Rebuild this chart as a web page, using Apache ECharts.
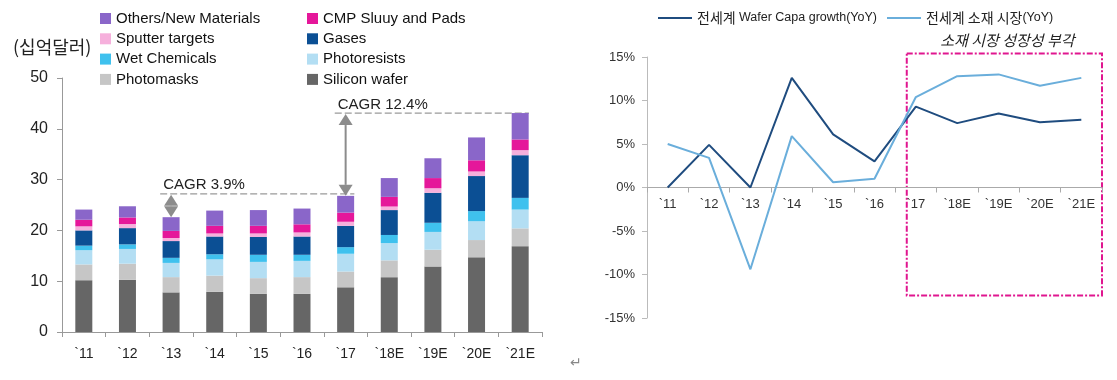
<!DOCTYPE html>
<html>
<head>
<meta charset="utf-8">
<script src="https://cdn.jsdelivr.net/npm/echarts@6/dist/echarts.min.js"></script>
<style>
html,body{margin:0;padding:0;background:#fff;}
#c{width:1117px;height:380px;}
</style>
</head>
<body>
<div id="c"></div>
<script>
// ---- Data ----
const categories = ['`11','`12','`13','`14','`15','`16','`17','`18E','`19E','`20E','`21E'];
const siliconWafer = [10.2,10.3,7.8,7.9,7.5,7.5,8.8,10.8,12.9,14.7,16.9];
const photomasks   = [3.1,3.15,3.0,3.2,3.1,3.3,3.1,3.3,3.3,3.4,3.5];
const photoresists = [2.8,2.9,2.8,3.2,3.2,3.2,3.5,3.4,3.5,3.7,3.7];
const wetChemicals = [0.9,0.9,1.0,1.0,1.4,1.2,1.3,1.6,1.8,2.0,2.3];
const gases        = [3.0,3.2,3.3,3.5,3.5,3.6,4.2,4.9,5.9,6.9,8.4];
const sputter      = [0.8,0.8,0.6,0.6,0.7,0.8,0.8,0.7,0.9,0.9,1.0];
const cmp          = [1.3,1.3,1.4,1.5,1.5,1.6,1.8,1.9,2.0,2.2,2.1];
const others       = [2.0,2.2,2.7,3.0,3.1,3.1,3.3,3.7,3.9,4.5,5.2];
const leftTicks = [0,10,20,30,40,50];

const lineCategories = ['`11','`12','`13','`14','`15','`16','`17','`18E','`19E','`20E','`21E'];
const waferCapa = [0.0,4.9,0.0,12.6,6.1,3.0,9.3,7.4,8.5,7.5,7.8];
const materialMarket = [5.0,3.4,-9.4,5.9,0.6,1.0,10.4,12.8,13.0,11.7,12.6];
const rightTicks = [-15,-10,-5,0,5,10,15];

const cagr1 = {label:'CAGR 3.9%', level:27.2, from:2, arrowCat:2, arrowTo:22.6, to:6};
const cagr2 = {label:'CAGR 12.4%', level:43.1, from:6, arrowCat:6, arrowTo:26.8, to:10};

const LAT = '"Liberation Sans", Arial, sans-serif';
const KRF = '"Noto Sans CJK KR", sans-serif';

const chart = echarts.init(document.getElementById('c'), null, {renderer:'canvas'});

const barNames = ['Silicon wafer','Photomasks','Photoresists','Wet Chemicals','Gases','Sputter targets','CMP Sluuy and Pads','Others/New Materials'];
const barData = [siliconWafer, photomasks, photoresists, wetChemicals, gases, sputter, cmp, others];
const barColors = ['#666666','#c6c6c6','#b3def3','#3fc1ee','#0b4f94','#f6b0dc','#e5179a','#8a66c9'];

const lineName1 = '전세계 Wafer Capa growth(YoY)';
const lineName2 = '전세계 소재 시장(YoY)';

const series = barNames.map((n,i)=>({
  name:n, type:'bar', stack:'total', xAxisIndex:0, yAxisIndex:0,
  data: barData[i], barWidth:17, itemStyle:{color:barColors[i]},
  animation:false
}));
series.push({
  name:lineName1, type:'line', xAxisIndex:1, yAxisIndex:1,
  data: waferCapa, symbol:'none', showSymbol:false,
  lineStyle:{color:'#1f4c7f', width:2}, itemStyle:{color:'#1f4c7f'}, animation:false
});
series.push({
  name:lineName2, type:'line', xAxisIndex:1, yAxisIndex:1,
  data: materialMarket, symbol:'none', showSymbol:false,
  lineStyle:{color:'#6aaedb', width:2}, itemStyle:{color:'#6aaedb'}, animation:false
});

const legendText = {fontFamily:LAT, fontSize:15, color:'#111', lineHeight:15};
const option = {
  animation:false,
  backgroundColor:'#fff',
  grid:[
    {left:62, right:575, top:78, bottom:48},
    {left:647, right:15, top:57, bottom:62}
  ],
  legend:[
    {left:100, top:11, padding:0, orient:'vertical', itemWidth:11, itemHeight:11, itemGap:5.3, icon:'rect',
     textStyle:legendText, data:['Others/New Materials','Sputter targets','Wet Chemicals','Photomasks']},
    {left:307, top:11, padding:0, orient:'vertical', itemWidth:11, itemHeight:11, itemGap:5.3, icon:'rect',
     textStyle:legendText, data:['CMP Sluuy and Pads','Gases','Photoresists','Silicon wafer']},
    {left:658, top:11, padding:0, orient:'horizontal', itemWidth:34, itemHeight:2, itemGap:10, icon:'rect',
     formatter: function(n){
       const i = n.indexOf('(');
       if (n.indexOf('Wafer') >= 0) {
         const k = n.split(' ')[0];
         return '{k|' + k + '} {l|' + n.slice(k.length+1) + '}';
       }
       return '{k|' + n.slice(0,i) + '}{l|' + n.slice(i) + '}';
     },
     textStyle:{color:'#222', rich:{
       k:{fontFamily:KRF, fontSize:14, color:'#222'},
       l:{fontFamily:LAT, fontSize:12.5, color:'#222'}
     }},
     data:[lineName1, lineName2]}
  ],
  xAxis:[
    {type:'category', gridIndex:0, data:categories,
     axisLine:{lineStyle:{color:'#999', width:1}},
     axisTick:{show:true, length:5, lineStyle:{color:'#999'}},
     axisLabel:{fontFamily:LAT, fontSize:14, color:'#222', margin:15}},
    {type:'category', gridIndex:1, data:lineCategories,
     axisLine:{onZero:false, lineStyle:{color:'#aaa', width:1}},
     axisTick:{show:true, length:5, lineStyle:{color:'#aaa'}},
     axisLabel:{fontFamily:LAT, fontSize:13, color:'#333', margin:10}}
  ],
  yAxis:[
    {type:'value', gridIndex:0, min:leftTicks[0], max:leftTicks[leftTicks.length-1], interval:10,
     axisLine:{show:true, lineStyle:{color:'#999'}},
     axisTick:{show:true, length:5, lineStyle:{color:'#999'}},
     splitLine:{show:false},
     axisLabel:{fontFamily:LAT, fontSize:16, color:'#222', margin:14}},
    {type:'value', gridIndex:1, min:rightTicks[0], max:rightTicks[rightTicks.length-1], interval:5,
     axisLine:{show:true, lineStyle:{color:'#bbb'}},
     axisTick:{show:true, length:5, lineStyle:{color:'#bbb'}},
     splitLine:{show:false},
     axisLabel:{fontFamily:LAT, fontSize:13, color:'#333', margin:12, formatter:'{value}%'}}
  ],
  series: series
};
chart.setOption(option);

// ---- Place right x axis at zero via the value scale ----
function px(cat, val, gi){ return chart.convertToPixel({gridIndex:gi}, [cat, val]); }
const yZero = px(0,0,1)[1];
const yBottom = px(0,rightTicks[0],1)[1];
chart.setOption({xAxis:[{}, {offset: -(yBottom - yZero)}]});

// ---- Annotations via library scales ----
const catW0 = px(1,0,0)[0]-px(0,0,0)[0];
const catW1 = px(1,0,1)[0]-px(0,0,1)[0];

function arrow(x, y1, y2){
  const h = 11, w = 7;
  const top = Math.min(y1,y2), bot = Math.max(y1,y2);
  const els = [];
  els.push({type:'line', shape:{x1:x, y1:top+h, x2:x, y2:bot-h}, style:{stroke:'#8c8c8c', lineWidth:2}, silent:true});
  els.push({type:'polygon', shape:{points:[[x,top],[x-w,top+h],[x+w,top+h]]}, style:{fill:'#8c8c8c'}, silent:true});
  els.push({type:'polygon', shape:{points:[[x,bot],[x-w,bot-h],[x+w,bot-h]]}, style:{fill:'#8c8c8c'}, silent:true});
  return els;
}
function cagr(c){
  const els = [];
  const y = px(0,c.level,0)[1];
  const xs = px(c.from,0,0)[0] - catW0*0.25;
  const xe = px(c.to,0,0)[0] + catW0*0.2;
  els.push({type:'line', shape:{x1:xs, y1:y, x2:xe, y2:y}, style:{stroke:'#9a9a9a', lineWidth:1.3, lineDash:[7,3]}, silent:true});
  els.push({type:'text', x:xs+3, y:y-1, style:{text:c.label, fontFamily:LAT, fontSize:15, fill:'#222', textVerticalAlign:'bottom'}, silent:true});
  const ax = px(c.arrowCat,0,0)[0];
  const ay2 = px(0,c.arrowTo,0)[1];
  return els.concat(arrow(ax, y+1, ay2));
}
const g = [];
g.push({type:'text', left:13, top:38, style:{text:'(십억달러)', fontFamily:KRF, fontSize:18, fill:'#222'}, silent:true});
g.push(...cagr(cagr1));
g.push(...cagr(cagr2));
// highlight box on right chart
const bx1 = px(6,0,1)[0] - catW1*0.22;
const bx2 = px(10,0,1)[0] + catW1*0.5;
const byTop = px(0,15.4,1)[1];
const byBot = px(0,-12.4,1)[1];
g.push({type:'rect', shape:{x:bx1, y:byTop, width:bx2-bx1, height:byBot-byTop},
  style:{fill:'none', stroke:'#e0168f', lineWidth:2, lineDash:[6,2,2,2]}, silent:true});
g.push({type:'text', x:(bx1+bx2)/2 + 3, y:byTop-6, style:{text:'소재 시장 성장성 부각', fontFamily:KRF, fontStyle:'italic', fontSize:15, fill:'#222', textAlign:'center', textVerticalAlign:'bottom'}, silent:true});
g.push({type:'text', left:570, top:356, style:{text:'↵', fontFamily:'"DejaVu Sans", sans-serif', fontSize:14, fill:'#888'}, silent:true});
chart.setOption({graphic:g});
</script>
</body>
</html>
